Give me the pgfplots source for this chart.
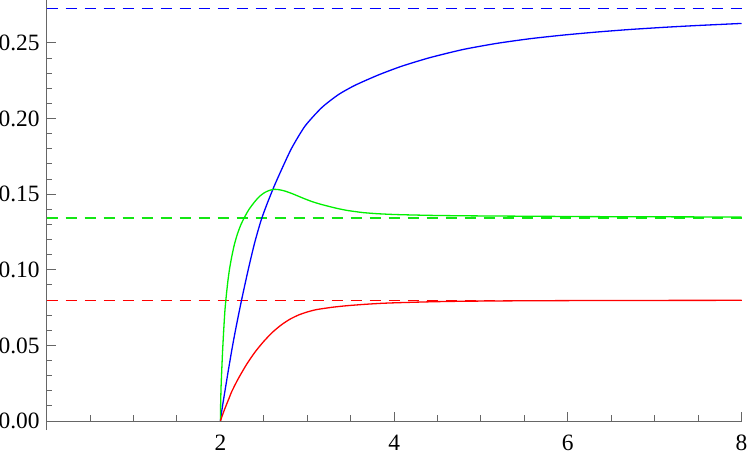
\documentclass[border=0pt]{standalone}
\usepackage{fontspec}
\setmainfont{Liberation Serif}
\usepackage{pgfplots}
\pgfplotsset{compat=1.18}
\usepackage{pgfplotstable}

\definecolor{axgray}{RGB}{102,102,102}
\definecolor{mblue}{RGB}{0,0,255}
\definecolor{mgreen}{RGB}{0,240,0}
\definecolor{dgreen}{RGB}{20,230,20}
\definecolor{mred}{RGB}{255,0,0}

\pgfplotstableread{
x y
2.000 0.0000
2.010 0.0045
2.030 0.0120
2.060 0.0225
2.090 0.0330
2.130 0.0465
2.170 0.0590
2.240 0.0790
2.320 0.1000
2.395 0.1180
2.470 0.1330
2.540 0.1440
2.617 0.1550
2.706 0.1665
2.821 0.1805
2.974 0.1950
3.166 0.2072
3.358 0.2158
3.550 0.2220
3.818 0.2288
4.087 0.2346
4.413 0.2403
4.797 0.2457
5.181 0.2497
5.565 0.2528
5.948 0.2552
6.332 0.2572
6.716 0.2589
7.100 0.2603
7.484 0.2615
8.000 0.2629
}\bluedata

\pgfplotstableread{
x y
2.000 0.0000
2.003 0.0120
2.008 0.0230
2.015 0.0330
2.025 0.0460
2.038 0.0600
2.052 0.0730
2.068 0.0830
2.085 0.0920
2.105 0.1005
2.130 0.1085
2.160 0.1165
2.195 0.1235
2.235 0.1297
2.280 0.1350
2.330 0.1400
2.395 0.1450
2.450 0.1485
2.510 0.1511
2.570 0.1526
2.625 0.1532
2.680 0.1529
2.740 0.1521
2.820 0.1505
2.900 0.1486
2.980 0.1467
3.060 0.1450
3.150 0.1434
3.250 0.1419
3.350 0.1405
3.454 0.1393
3.550 0.1385
3.645 0.1378
3.800 0.1371
4.030 0.1365
4.400 0.1360
4.797 0.1357
5.565 0.1354
6.500 0.1351
8.000 0.1349
}\greendata

\pgfplotstableread{
x y
2.000 0.0000
2.020 0.0033
2.050 0.0080
2.100 0.0151
2.130 0.0194
2.200 0.0274
2.300 0.0373
2.400 0.0457
2.500 0.0527
2.600 0.0587
2.700 0.0635
2.800 0.0673
2.900 0.0701
3.000 0.0721
3.100 0.0736
3.200 0.0745
3.300 0.0753
3.450 0.0762
3.650 0.0771
3.850 0.0778
4.030 0.0782
4.400 0.0788
4.800 0.0792
5.500 0.0795
6.500 0.0797
8.000 0.0798
}\reddata

\begin{document}
\begin{tikzpicture}
\begin{axis}[
    name=ax,
    scale only axis,
    width=347.4pt, height=210.5pt,
    xmin=0, xmax=8, ymin=0, ymax=0.2784,
    axis lines=left,
    axis line style={-, draw=axgray, line width=0.5pt},
    y axis line style={shorten <=-4.5pt},
    tick style={draw=axgray, line width=0.5pt},
    tick align=inside,
    major tick length=4.5pt, minor tick length=2.8pt,
    xtick={0,2,4,6,8}, xticklabels={,2,4,6,8},
    minor x tick num=3,
    ytick={0,0.05,0.1,0.15,0.2,0.25},
    minor y tick num=4,
    ticklabel style={font=\fontsize{11.7}{13}\selectfont, text=black},
    xticklabel style={yshift=-3.6pt},
    yticklabel style={/pgf/number format/.cd, fixed, fixed zerofill, precision=2},
    /pgf/number format/assume math mode=true,
    clip=false,
    every axis plot/.append style={line width=0.65pt, no markers},
]
\addplot[mblue, line width=0.8pt, dash pattern=on 5.8pt off 3.7pt] coordinates {(0,0.27285) (8,0.27285)};
\addplot[dgreen, line width=0.8pt, dash pattern=on 5.8pt off 3.7pt] coordinates {(0,0.13435) (8,0.13435)};
\addplot[mred, line width=0.8pt, dash pattern=on 5.8pt off 3.7pt] coordinates {(0,0.07975) (8,0.07975)};
\addplot[mblue, smooth, tension=0.4] table {\bluedata};
\addplot[mgreen, smooth, tension=0.4] table {\greendata};
\addplot[mred, smooth, tension=0.4] table {\reddata};
\end{axis}
\pgfresetboundingbox
\path ([xshift=-23.35pt, yshift=-16.5pt]ax.south west) rectangle ([xshift=2.75pt]ax.north east);
\end{tikzpicture}
\end{document}
